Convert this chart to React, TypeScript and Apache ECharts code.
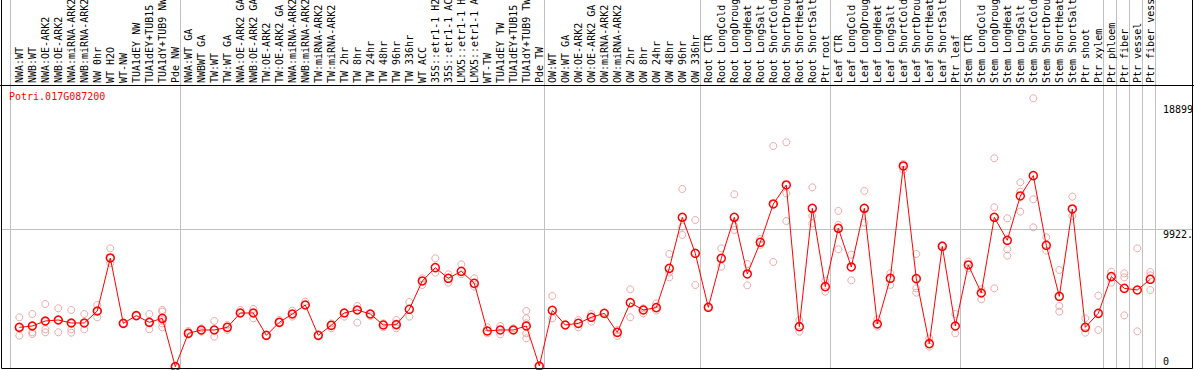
import React, { useEffect, useRef } from "react";
import * as echarts from "echarts";

const title = "Potri.017G087200";

const categories = [
  "NWA:WT", "NWB:WT", "NWA:OE-ARK2", "NWB:OE-ARK2", "NWA:miRNA-ARK2", "NWB:miRNA-ARK2",
  "NW 0hr", "WT H2O", "WT-NW", "TUA1dEY NW", "TUA1dEY+TUB15", "TUA1dY+TUB9 NW", "Pde NW",
  "NWA:WT GA", "NWBWT GA", "TW:WT", "TW:WT GA", "NWA:OE-ARK2 GA", "NWB:OE-ARK2 GA",
  "TW:OE-ARK2", "TW:OE-ARK2 GA", "NWA:miRNA-ARK2", "NWB:miRNA-ARK2", "TW:miRNA-ARK2",
  "TW:miRNA-ARK2", "TW 2hr", "TW 8hr", "TW 24hr", "TW 48hr", "TW 96hr", "TW 336hr",
  "WT ACC", "35S::etr1-1 H2O", "35S::etr1-1 ACC", "LMX5::etr1-1 H2O", "LMX5::etr1-1 ACC",
  "WT-TW", "TUA1dEY TW", "TUA1dEY+TUB15", "TUA1dY+TUB9 TW", "Pde TW",
  "OW:WT", "OW:WT GA", "OW:OE-ARK2", "OW:OE-ARK2 GA", "OW:miRNA-ARK2", "OW:miRNA-ARK2",
  "OW 2hr", "OW 8hr", "OW 24hr", "OW 48hr", "OW 96hr", "OW 336hr",
  "Root CTR", "Root LongCold", "Root LongDrought", "Root LongHeat", "Root LongSalt",
  "Root ShortCold", "Root ShortDrought", "Root ShortHeat", "Root ShortSalt", "Ptr root",
  "Leaf CTR", "Leaf LongCold", "Leaf LongDrought", "Leaf LongHeat", "Leaf LongSalt",
  "Leaf ShortCold", "Leaf ShortDrought", "Leaf ShortHeat", "Leaf ShortSalt", "Ptr leaf",
  "Stem CTR", "Stem LongCold", "Stem LongDrought", "Stem LongHeat", "Stem LongSalt",
  "Stem ShortCold", "Stem ShortDrought", "Stem ShortHeat", "Stem ShortSalt", "Ptr shoot",
  "Ptr xylem", "Ptr phloem", "Ptr fiber", "Ptr vessel", "Ptr fiber vessel",
];

const means = [
  2852, 2948, 3308, 3380, 3164, 3164, 4027, 7838, 3140, 3691, 3212, 3500, 24,
  2421, 2661, 2661, 2852, 3883, 3883, 2277, 3212, 3811, 4458, 2277, 2996, 3883, 4099,
  3811, 3020, 3044, 4147, 6184, 7143, 6376, 6879, 6016, 2589, 2661, 2661, 2948, 72,
  4075, 3020, 3140, 3572, 3859, 2493, 4626, 4099, 4267, 7095, 10763, 8174,
  4291, 7814, 10763, 6688, 8965, 11721, 13088, 2900, 11410, 5777,
  9972, 7191, 11410, 3092, 6376, 14454, 6352, 1678, 8677, 2948,
  7335, 5321, 10763, 9109, 12297, 13759, 8749, 5082, 11362, 2852,
  3859, 6496, 5657, 5537, 6304,
];

const replicates = [
  [3572, 2852, 2253], [3811, 2948, 2493, 2373], [4530, 3260, 2709, 2493], [4219, 3380, 2493],
  [4099, 3140, 2709, 2469], [3811, 3140, 2709], [4458, 4027, 3572], [8533, 7838, 7455],
  [3140], [3691], [3811, 3212, 2709], [4099, 3979, 3380, 3140, 2852], [24],
  [2589, 2421], [2781, 2541], [3308, 2661, 2181], [3020, 2661], [3883, 4099],
  [4171, 3883, 3500], [2277], [3212, 3380], [4051, 3811, 3619], [4458, 4698], [2277],
  [3140, 2781], [3883, 3619], [4387, 4099, 3188], [3811, 3667], [3140, 2852],
  [3380, 3044, 2781], [4674, 3619], [6376, 5897], [7814, 6784], [6664, 6064],
  [7383, 6664], [6376, 5777], [2852, 2421], [2948, 2349], [2661, 2781],
  [4027, 3500, 3140, 2421, 2061], [72],
  [5106, 3500], [3020], [3380, 2852], [3811, 3260], [3907], [2661, 2229],
  [5585, 3572], [4219, 3859], [4578, 4051], [8126, 6784, 6448], [12800, 10091, 9492],
  [10571, 5897],
  [4339], [8533, 7215], [12416, 10139, 9852], [7407, 5873], [9204, 8773],
  [15892, 11721, 7551], [16156, 12488, 10499], [3380, 2541], [12920, 10858, 10331],
  [6208, 5417],
  [11218, 10211, 8461], [8078, 6232], [12656, 10379], [3428, 2900], [6736, 5897],
  [14598, 14166], [8126, 5657, 5345], [2061, 1462], [8773], [3811, 2421],
  [7575, 7095], [5585, 4866], [15005, 11482, 5657], [10691, 8461, 8006],
  [13279, 12608, 11170], [19320, 12057, 10043], [9324, 8366], [6975, 4387, 3979],
  [12249, 10858], [3500, 2469],
  [5130, 2661], [6855, 6064], [6736, 6448, 3715], [8533, 2565], [6831, 6592, 5537],
];

// last category index of each sample group
const groupEnds = [12, 40, 52, 62, 72, 83, 84, 85, 86, 87];

const yMax = 20276;
const gridValue = 9922;
const tickValues = [18899, 9922, 0];
const tickTexts = ["18899", "9922.", "0"];

const FONT = "DejaVu Sans Mono";

export default function App() {
  const ref = useRef<HTMLDivElement>(null);

  useEffect(() => {
    document.body.style.margin = "0";
    const chart = echarts.init(ref.current!, null, { renderer: "svg" });

    const repData: number[][] = [];
    replicates.forEach((vals, i) => vals.forEach((v) => repData.push([i, v])));

    chart.setOption({
      animation: false,
      backgroundColor: "#ffffff",
      grid: {
        left: 12.8,
        right: 37.2,
        top: 85,
        bottom: 3,
        containLabel: false,
        outerBoundsMode: "none",
      },
      xAxis: {
        type: "category",
        position: "top",
        data: categories,
        boundaryGap: true,
        axisLine: { show: false },
        axisTick: { show: false },
        splitLine: { show: false },
        axisLabel: {
          interval: 0,
          rotate: 90,
          margin: 2,
          hideOverlap: false,
          fontFamily: FONT,
          fontSize: 10,
          color: "#000000",
        },
      },
      yAxis: {
        type: "value",
        min: 0,
        max: yMax,
        show: false,
      },
      series: [
        {
          type: "scatter",
          data: repData,
          symbol: "circle",
          symbolSize: 7,
          itemStyle: { color: "rgba(0,0,0,0)", borderColor: "#ec9494", borderWidth: 1 },
          z: 2,
        },
        {
          type: "line",
          data: means,
          symbol: "circle",
          symbolSize: 8,
          showAllSymbol: true,
          lineStyle: { color: "#ff0000", width: 1 },
          itemStyle: { color: "rgba(0,0,0,0)", borderColor: "#ff0000", borderWidth: 1.5 },
          z: 3,
        },
      ],
    });

    const cx = (i: number) => chart.convertToPixel({ xAxisIndex: 0 }, i) as number;
    const cy = (v: number) => chart.convertToPixel({ yAxisIndex: 0 }, v) as number;

    const gray = "#c0c0c0";
    const bottomY = 368.5;
    const leftX = 1.5;
    const rightX = 1192.5;
    const graphics: any[] = [];

    const sepXs = [cx(0) - 9, ...groupEnds.map((i) => cx(i) + 5)];
    sepXs.forEach((x) => {
      const xx = Math.round(x) + 0.5;
      graphics.push({
        type: "line",
        z: 0,
        shape: { x1: xx, y1: 0, x2: xx, y2: bottomY },
        style: { stroke: gray, lineWidth: 1 },
      });
    });

    const gy = Math.round(cy(gridValue)) + 0.5;
    graphics.push({
      type: "line",
      z: 0,
      shape: { x1: leftX, y1: gy, x2: rightX, y2: gy },
      style: { stroke: gray, lineWidth: 1 },
    });

    // frame
    graphics.push(
      { type: "line", z: 5, shape: { x1: leftX, y1: 0, x2: leftX, y2: bottomY }, style: { stroke: "#000", lineWidth: 1 } },
      { type: "line", z: 5, shape: { x1: rightX, y1: 0, x2: rightX, y2: bottomY }, style: { stroke: "#000", lineWidth: 1 } },
      { type: "line", z: 5, shape: { x1: 0, y1: 85.5, x2: 1194, y2: 85.5 }, style: { stroke: "#000", lineWidth: 1 } },
      { type: "line", z: 5, shape: { x1: leftX, y1: bottomY, x2: rightX, y2: bottomY }, style: { stroke: "#000", lineWidth: 1 } }
    );

    tickValues.forEach((v, k) => {
      const y = cy(v);
      graphics.push({
        type: "text",
        z: 5,
        x: 1163,
        y: v === 0 ? y - 1 : y,
        style: {
          text: tickTexts[k],
          font: `10px "${FONT}"`,
          fill: "#000",
          textAlign: "left",
          textVerticalAlign: v === 0 ? "bottom" : "top",
        },
      });
    });

    graphics.push({
      type: "text",
      z: 5,
      x: 9,
      y: 91,
      style: {
        text: title,
        font: `10px "${FONT}"`,
        fill: "#ff0000",
        textAlign: "left",
        textVerticalAlign: "top",
      },
    });

    chart.setOption({ graphic: graphics });

    return () => chart.dispose();
  }, []);

  return <div ref={ref} style={{ width: 1194, height: 370 }} />;
}
